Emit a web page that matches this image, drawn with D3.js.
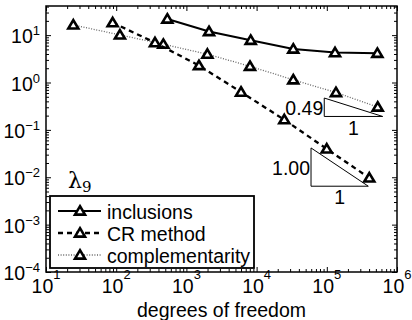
<!DOCTYPE html>
<html>
<head>
<meta charset="utf-8">
<script src="https://cdn.jsdelivr.net/npm/d3@7"></script>
<style>
  body { margin: 0; background: #fff; }
  text { font-family: "Liberation Sans", Arial, sans-serif; fill: #000; }
</style>
</head>
<body>
<div id="chart"></div>
<script>
// degrees of freedom / eigenvalue error
const inclusionsX = [535, 2100, 8240, 33300, 131000, 525000];
const inclusionsY = [21.9, 11.9, 7.8, 5.1, 4.28, 4.15];

const crX = [89, 357, 1510, 6000, 24800, 99800, 403000];
const crY = [18.3, 6.95, 2.28, 0.628, 0.164, 0.0396, 0.0097];

const complX = [24.5, 113, 469, 1990, 8050, 33300, 135000, 531000];
const complY = [16.4, 10.1, 6.43, 3.96, 2.2, 1.14, 0.616, 0.303];

const xDecades = [1, 2, 3, 4, 5, 6];
const yDecades = [1, 0, -1, -2, -3, -4];

// slope triangles: [xLeft, xRight], [yLow, yHigh]
const tri049X = [92000, 625000];
const tri049Y = [0.192, 0.47];
const tri100X = [59600, 390000];
const tri100Y = [0.00647, 0.0416];

const legendNames = ["inclusions", "CR method", "complementarity"];

const width = 412;
const height = 320;
const margin = { top: 6, right: 15, bottom: 48, left: 46 };

const svg = d3.select("#chart")
  .append("svg")
  .attr("width", width)
  .attr("height", height);

const x = d3.scaleLog()
  .domain([10, 1e6])
  .range([margin.left, width - margin.right]);

const y = d3.scaleLog()
  .domain([1e-4, Math.pow(10, 1.615)])
  .range([height - margin.bottom, margin.top]);

const x0 = margin.left, x1 = width - margin.right;
const y0 = height - margin.bottom, y1 = margin.top;

// minor tick values
function minors(scale) {
  const [a, b] = scale.domain();
  const out = [];
  for (let e = Math.floor(Math.log10(a)); e <= Math.ceil(Math.log10(b)); e++) {
    for (let m = 2; m <= 9; m++) {
      const v = m * Math.pow(10, e);
      if (v > a && v < b) out.push(v);
    }
  }
  return out;
}
const xMaj = xDecades.map(d => Math.pow(10, d));
const yMaj = yDecades.map(d => Math.pow(10, d));

function tickAxis(axis, vals, size) {
  return axis.tickValues(vals).tickSize(size).tickSizeOuter(0).tickFormat("");
}

const axes = svg.append("g").attr("class", "axes");
// bottom / top
axes.append("g").attr("transform", `translate(0,${y0})`).call(tickAxis(d3.axisBottom(x), xMaj, -5));
axes.append("g").attr("transform", `translate(0,${y0})`).call(tickAxis(d3.axisBottom(x), minors(x), -3));
axes.append("g").attr("transform", `translate(0,${y1})`).call(tickAxis(d3.axisTop(x), xMaj, -5));
axes.append("g").attr("transform", `translate(0,${y1})`).call(tickAxis(d3.axisTop(x), minors(x), -3));
// left / right
axes.append("g").attr("transform", `translate(${x0},0)`).call(tickAxis(d3.axisLeft(y), yMaj, -5));
axes.append("g").attr("transform", `translate(${x0},0)`).call(tickAxis(d3.axisLeft(y), minors(y), -3));
axes.append("g").attr("transform", `translate(${x1},0)`).call(tickAxis(d3.axisRight(y), yMaj, -5));
axes.append("g").attr("transform", `translate(${x1},0)`).call(tickAxis(d3.axisRight(y), minors(y), -3));
axes.selectAll(".domain").remove();
axes.selectAll("line").attr("stroke", "#000").attr("stroke-width", 1);

// box
svg.append("rect")
  .attr("x", x0).attr("y", y1)
  .attr("width", x1 - x0).attr("height", y0 - y1)
  .attr("fill", "none").attr("stroke", "#000").attr("stroke-width", 1.5);

// tick labels
const fs = 19.5, sup = 13;
xDecades.forEach(d => {
  const t = svg.append("text")
    .attr("x", x(Math.pow(10, d)))
    .attr("y", 293)
    .attr("text-anchor", "middle")
    .style("font-size", fs + "px");
  t.append("tspan").text("10");
  t.append("tspan").attr("dy", -14).style("font-size", sup + "px").text(d < 0 ? "\u2212" + (-d) : d);
});
yDecades.forEach(d => {
  const t = svg.append("text")
    .attr("x", 40)
    .attr("y", y(Math.pow(10, d)) + 8)
    .attr("text-anchor", "end")
    .style("font-size", fs + "px");
  t.append("tspan").text("10");
  t.append("tspan").attr("dy", -8).style("font-size", sup + "px").text(d < 0 ? "\u2212" + (-d) : d);
});

// axis label
svg.append("text")
  .attr("x", (x0 + x1) / 2)
  .attr("y", 317)
  .attr("text-anchor", "middle")
  .style("font-size", fs + "px")
  .text("degrees of freedom");

// series
const series = [
  { name: legendNames[0], xs: inclusionsX, ys: inclusionsY, dash: null, stroke: "#000", w: 2 },
  { name: legendNames[1], xs: crX, ys: crY, dash: "5,4", stroke: "#000", w: 2.3 },
  { name: legendNames[2], xs: complX, ys: complY, dash: "1,1.6", stroke: "#666", w: 1.3 }
];

const line = d3.line().x(d => x(d[0])).y(d => y(d[1]));
const tri = "M0,-4.8L5,3.6L-5,3.6Z";

series.slice().reverse().forEach(s => {
  const pts = s.xs.map((v, i) => [v, s.ys[i]]);
  svg.append("path")
    .datum(pts)
    .attr("d", line)
    .attr("fill", "none")
    .attr("stroke", s.stroke)
    .attr("stroke-width", s.w)
    .attr("stroke-dasharray", s.dash);
  svg.selectAll(null)
    .data(pts)
    .join("path")
    .attr("d", tri)
    .attr("transform", d => `translate(${x(d[0])},${y(d[1])})`)
    .attr("fill", "#fff")
    .attr("stroke", "#000")
    .attr("stroke-width", 2.6)
    .attr("stroke-linejoin", "miter");
});

// slope triangles
function slopeTriangle(xs, ys, label, labelY, oneY) {
  const xl = x(xs[0]), xr = x(xs[1]), yt = y(ys[1]), yb = y(ys[0]);
  svg.append("path")
    .attr("d", `M${xl},${yt}L${xl},${yb}L${xr},${yb}Z`)
    .attr("fill", "none")
    .attr("stroke", "#000")
    .attr("stroke-width", 1);
  svg.append("text")
    .attr("x", xl - 1).attr("y", labelY)
    .attr("text-anchor", "end")
    .style("font-size", fs + "px")
    .text(label);
  svg.append("text")
    .attr("x", (xl + xr) / 2).attr("y", oneY)
    .attr("text-anchor", "middle")
    .style("font-size", fs + "px")
    .text("1");
}
slopeTriangle(tri049X, tri049Y, "0.49", 115, 135);
slopeTriangle(tri100X, tri100Y, "1.00", 175, 204);

// lambda label
const lam = svg.append("text")
  .attr("x", 68).attr("y", 188)
  .style("font-family", "'DejaVu Serif', 'Liberation Serif', serif")
  .style("font-size", "22px");
lam.append("tspan").text("\u03bb");
lam.append("tspan").attr("dy", 4).style("font-size", "15px").text("9");

// legend
const lg = svg.append("g");
lg.append("rect")
  .attr("x", 50).attr("y", 196)
  .attr("width", 204).attr("height", 72)
  .attr("fill", "#fff")
  .attr("stroke", "#000")
  .attr("stroke-width", 1.8);

series.forEach((s, i) => {
  const ly = 211 + i * 22;
  lg.append("line")
    .attr("x1", 58).attr("x2", 101)
    .attr("y1", ly).attr("y2", ly)
    .attr("stroke", s.stroke)
    .attr("stroke-width", s.w)
    .attr("stroke-dasharray", s.dash);
  lg.append("path")
    .attr("d", tri)
    .attr("transform", `translate(80,${ly})`)
    .attr("fill", "#fff")
    .attr("stroke", "#000")
    .attr("stroke-width", 2.6);
  lg.append("text")
    .attr("x", 107).attr("y", ly + 7.5)
    .style("font-size", fs + "px")
    .text(s.name);
});
</script>
</body>
</html>
